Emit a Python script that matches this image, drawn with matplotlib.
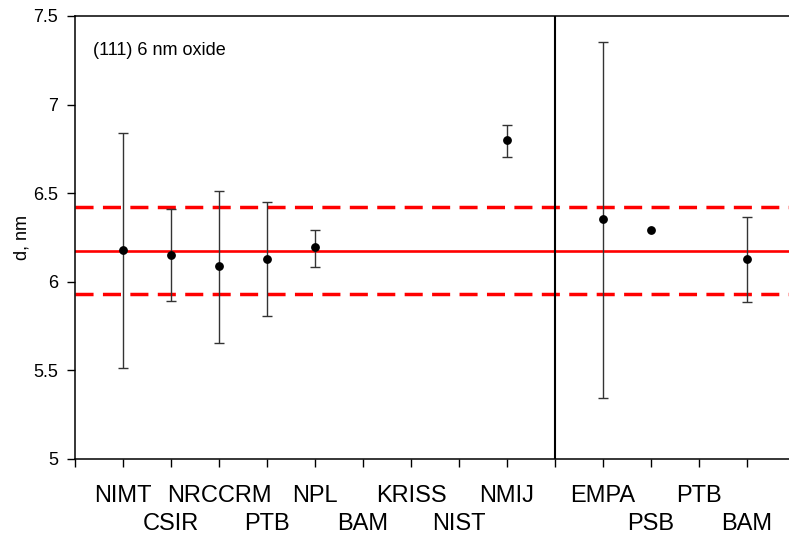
import matplotlib
matplotlib.use("Agg")
import matplotlib.pyplot as plt
import numpy as np

plt.rcParams["font.family"] = ["Liberation Sans", "DejaVu Sans"]

# tick labels in plotting order (position 10 is the divider between the two groups)
labels = ["NIMT", "CSIR", "NRCCRM", "PTB", "NPL", "BAM", "KRISS", "NIST", "NMIJ",
          "", "EMPA", "PSB", "PTB", "BAM"]

# measured points with error bars: position, value, upper and lower limit
pt_pos = [1, 2, 3, 4, 5, 9, 11, 14]
pt_val = [6.18, 6.15, 6.09, 6.13, 6.195, 6.80, 6.355, 6.13]
pt_hi = [6.84, 6.41, 6.515, 6.45, 6.295, 6.887, 7.353, 6.365]
pt_lo = [5.514, 5.893, 5.655, 5.809, 6.085, 6.706, 5.345, 5.885]

# points without uncertainty
bare_pos = [12]
bare_val = [6.29]

ref_mean = 6.175
ref_band = [5.93, 6.42]
divider = 10

y_ticks = [5, 5.5, 6, 6.5, 7, 7.5]
y_tick_labels = ["5", "5.5", "6", "6.5", "7", "7.5"]

fig = plt.figure(figsize=(7.89, 5.37), dpi=100)
ax = fig.add_axes([75 / 789, 78 / 537, 1 - 75 / 789, (459 - 16) / 537])

val = np.array(pt_val)
yerr = np.vstack([val - np.array(pt_lo), np.array(pt_hi) - val])
ax.errorbar(pt_pos, val, yerr=yerr, fmt="o", color="black", ms=5.3,
            ecolor="#333333", elinewidth=1, capsize=3.6, capthick=1, zorder=3)
ax.plot(bare_pos, bare_val, "o", color="black", ms=5.3, zorder=3)

ax.axhline(ref_mean, color="red", lw=1.9, zorder=2)
for b in ref_band:
    ax.axhline(b, color="red", lw=2.5, ls=(0, (5.2, 2.7)), zorder=2)
ax.axvline(divider, color="black", lw=1.5, zorder=2)

ax.set_xlim(0, 14.875)
ax.set_ylim(5, 7.5)
ax.set_yticks(y_ticks)
ax.set_yticklabels(y_tick_labels, fontsize=13)

# odd positions -> upper label row (major ticks), even -> lower row (minor ticks)
pos = list(range(1, len(labels) + 1))
odd_pos = [p for p in pos if p % 2 == 1]
even_pos = [0] + [p for p in pos if p % 2 == 0]
ax.set_xticks(odd_pos)
ax.set_xticklabels([labels[p - 1] for p in odd_pos], fontsize=17)
ax.set_xticks(even_pos, minor=True)
ax.set_xticklabels([""] + [labels[p - 1] for p in even_pos[1:]], minor=True, fontsize=17)
ax.tick_params(axis="x", which="major", direction="out", length=6, width=1, pad=13)
ax.tick_params(axis="x", which="minor", direction="out", length=6, width=1, pad=33)
ax.tick_params(axis="y", direction="out", length=6, width=1, pad=6)

ax.spines["right"].set_visible(False)
for s in ["left", "bottom", "top"]:
    ax.spines[s].set_linewidth(1.1)

ax.set_ylabel("d, nm", fontsize=13, labelpad=2)
ax.text(0.37, 7.28, "(111) 6 nm oxide", fontsize=13)

fig.savefig("out.png", dpi=100)
